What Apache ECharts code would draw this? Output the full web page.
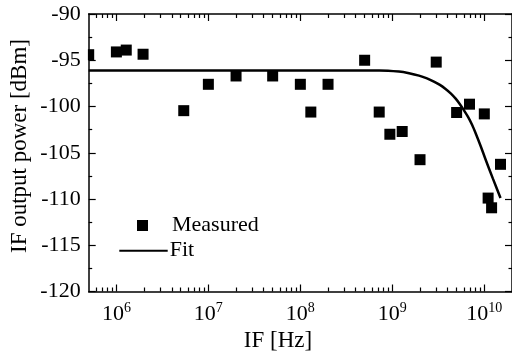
<!DOCTYPE html>
<html><head><meta charset="utf-8">
<script src="https://cdn.jsdelivr.net/npm/echarts@6/dist/echarts.min.js"></script>
<style>html,body{margin:0;padding:0;background:#fff}#c{width:512px;height:360px}</style>
</head><body><div id="c"></div>
<script>
// Measured data
const measuredFreqHz = [5e5, 1e6, 1.28e6, 1.95e6, 5.4e6, 1e7, 2e7, 5e7, 1e8, 1.3e8, 2e8, 5e8, 7.2e8, 9.4e8, 1.28e9, 2e9, 3e9, 5e9, 6.9e9, 1e10, 1.5e10, 1.1e10, 1.2e10];
const measuredDbm   = [-94.4, -94.1, -93.9, -94.35, -100.45, -97.6, -96.7, -96.7, -97.6, -100.6, -97.6, -95.0, -100.6, -103.0, -102.7, -105.75, -95.2, -100.65, -99.75, -100.8, -106.25, -109.9, -110.95];
// Fit curve
const fitFreqHz = [5e5, 1e8, 7.2e8, 1.18e9, 1.52e9, 1.95e9, 2.38e9, 2.83e9, 3.29e9, 3.79e9, 4.34e9, 4.88e9, 5.43e9, 6.0e9, 6.63e9, 7.38e9, 8.09e9, 9.1e9, 1.03e10, 1.24e10, 1.5e10];
const fitDbm    = [-96.1, -96.1, -96.1, -96.22, -96.4, -96.66, -96.96, -97.3, -97.66, -98.1, -98.6, -99.15, -99.75, -100.4, -101.1, -102.0, -102.94, -104.24, -105.7, -107.8, -109.9];
// Axis ticks
const xMajorTicks = [1e6, 1e7, 1e8, 1e9, 1e10];
const xMinorTicks = [6e5,7e5,8e5,9e5, 2e6,3e6,4e6,5e6,6e6,7e6,8e6,9e6, 2e7,3e7,4e7,5e7,6e7,7e7,8e7,9e7, 2e8,3e8,4e8,5e8,6e8,7e8,8e8,9e8, 2e9,3e9,4e9,5e9,6e9,7e9,8e9,9e9];
const xMin = 5e5, xMax = 2e10;
const yMin = -120, yMax = -90, yStep = 5;
const xTitle = 'IF [Hz]';
const yTitle = 'IF output power [dBm]';
const seriesNames = ['Measured', 'Fit'];

const FONT = '"Liberation Serif", "Times New Roman", serif';
const chart = echarts.init(document.getElementById('c'), null, {renderer: 'canvas'});
const axisLine = {show: true, lineStyle: {color: '#000', width: 1.5}};
function xAx(pos, ticks, len, showLine, showLabel) {
  return {
    type: 'log', logBase: 10, min: xMin, max: xMax, position: pos, gridIndex: 0,
    axisLine: showLine ? axisLine : {show: false},
    axisTick: {show: true, inside: true, length: len, customValues: ticks, lineStyle: {color: '#000', width: 1.2}},
    axisLabel: showLabel ? {
      show: true, customValues: ticks, margin: 10, color: '#000', fontFamily: FONT,
      formatter: function (v) { return '{b|10}{s|' + Math.round(Math.log10(v)) + '}'; },
      rich: {b: {fontSize: 22, fontFamily: FONT, color: '#000', lineHeight: 26},
             s: {fontSize: 14, fontFamily: FONT, color: '#000', verticalAlign: 'top', lineHeight: 14}}
    } : {show: false},
    splitLine: {show: false}, minorTick: {show: false}
  };
}
function yAx(pos, showLabel) {
  return {
    type: 'value', min: yMin, max: yMax, interval: yStep, position: pos,
    axisLine: axisLine,
    axisTick: {show: true, inside: true, length: 7, lineStyle: {color: '#000', width: 1.2}},
    minorTick: {show: true, splitNumber: 2, length: 3.5, lineStyle: {color: '#000', width: 1.2}},
    axisLabel: showLabel ? {show: true, margin: 8, color: '#000', fontSize: 22, fontFamily: FONT} : {show: false},
    splitLine: {show: false}
  };
}
chart.setOption({
  backgroundColor: '#fff',
  animation: false,
  grid: {left: 88.7, top: 14, right: -1, bottom: 68.5, containLabel: false},
  xAxis: [
    xAx('bottom', xMajorTicks, 7, true, true),
    xAx('bottom', xMinorTicks, 4, false, false),
    xAx('top', xMajorTicks, 7, true, false),
    xAx('top', xMinorTicks, 4, false, false)
  ],
  yAxis: [yAx('left', true), yAx('right', false)],
  legend: [
    {left: 137, top: 214.5, padding: 0, itemWidth: 11, itemHeight: 11,
     textStyle: {fontSize: 22, fontFamily: FONT, color: '#000', lineHeight: 22, padding: [0, 0, 0, 19]},
     data: [{name: seriesNames[0], icon: 'rect', itemStyle: {color: '#000', opacity: 1}}]},
    {left: 118.3, top: 239.7, padding: 0, itemWidth: 48.4, itemHeight: 11,
     textStyle: {fontSize: 22, fontFamily: FONT, color: '#000', lineHeight: 22, padding: [0, 0, 0, -3]},
     data: [{name: seriesNames[1], itemStyle: {opacity: 0}}]}
  ],
  graphic: [
    {type: 'rect', z: 50, shape: {x: 81, y: 45, width: 6.9, height: 22}, style: {fill: '#fff'}},
    {type: 'text', x: 278, y: 341, style: {text: xTitle, fontSize: 23, fontFamily: FONT, fill: '#000', align: 'center', verticalAlign: 'middle'}},
    {type: 'text', x: 20, y: 146, rotation: Math.PI / 2, style: {text: yTitle, fontSize: 23, fontFamily: FONT, fill: '#000', align: 'center', verticalAlign: 'middle'}}
  ],
  series: [
    {name: seriesNames[0], type: 'scatter', xAxisIndex: 0, yAxisIndex: 0, symbol: 'rect', symbolSize: 11,
     itemStyle: {color: '#000', opacity: 1}, data: measuredFreqHz.map((f, i) => [f, measuredDbm[i]])},
    {name: seriesNames[1], type: 'line', xAxisIndex: 0, yAxisIndex: 0, symbol: 'none', smooth: 0.3,
     lineStyle: {color: '#000', width: 2.5}, itemStyle: {color: '#000'}, data: fitFreqHz.map((f, i) => [f, fitDbm[i]])}
  ]
});
</script></body></html>
